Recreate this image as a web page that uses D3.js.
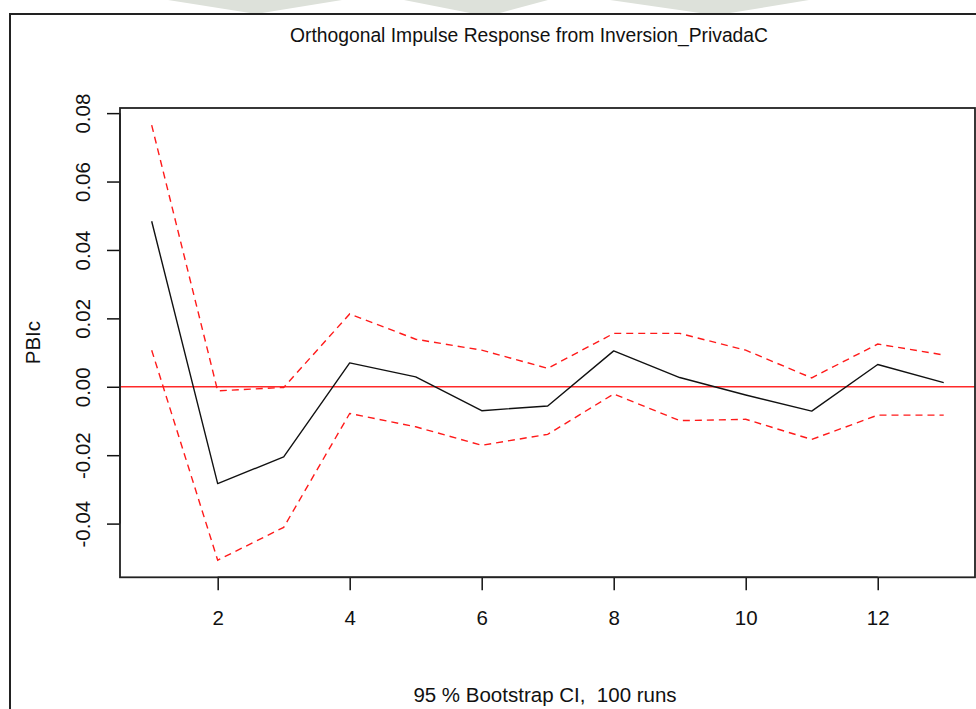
<!DOCTYPE html>
<html>
<head>
<meta charset="utf-8">
<script src="https://cdn.jsdelivr.net/npm/d3@7"></script>
<style>
  html, body { margin: 0; padding: 0; background: #fff; }
  svg { display: block; font-family: "Liberation Sans", Arial, sans-serif; }
</style>
</head>
<body>
<div id="chart"></div>
<script>
// impulse horizon 1..13
const horizon = [1, 2, 3, 4, 5, 6, 7, 8, 9, 10, 11, 12, 13];
// orthogonal impulse response of PBIc to Inversion_PrivadaC
const irf = [0.0484, -0.0283, -0.0205, 0.0070, 0.0029, -0.0070, -0.0056, 0.0105, 0.0027, -0.0024, -0.0071, 0.0065, 0.0012];
// 95 % bootstrap bands
const upper = [0.0765, -0.0012, -0.0002, 0.0213, 0.0139, 0.0107, 0.0054, 0.0156, 0.0156, 0.0107, 0.0026, 0.0125, 0.0093];
const lower = [0.0107, -0.0507, -0.0411, -0.0078, -0.0117, -0.0171, -0.0139, -0.0021, -0.0099, -0.0095, -0.0154, -0.0083, -0.0083];
const xTicks = [2, 4, 6, 8, 10, 12];
const yTicks = [-0.04, -0.02, 0.00, 0.02, 0.04, 0.06, 0.08];

const width = 976, height = 709;
const plot = {left: 120, right: 975, top: 108, bottom: 577.3};

const svg = d3.select('#chart').append('svg')
    .attr('width', width)
    .attr('height', height);

// faint watermark bits peeking above the frame
const wm = svg.append('g').attr('fill', '#dde1da');
[[168, 250, 262, 342], [404, 470, 500, 548], [610, 700, 730, 809]].forEach(function (s) {
    wm.append('path')
        .attr('d', 'M' + s[0] + ',0 L' + s[3] + ',0 L' + s[2] + ',13 L' + s[1] + ',13 Z');
});

// outer frame (runs off the right/bottom of the picture)
svg.append('rect')
    .attr('x', 10).attr('y', 14)
    .attr('width', width + 20).attr('height', height + 20)
    .attr('fill', '#fff')
    .attr('stroke', '#222')
    .attr('stroke-width', 2);

const x = d3.scaleLinear()
    .domain([0.52, 13.48])
    .range([plot.left, 975.4]);

const y = d3.scaleLinear()
    .domain([-0.0557, 0.0815])
    .range([plot.bottom, plot.top]);

const fontSize = 20.5;

// y axis
const yAxis = svg.append('g')
    .attr('transform', 'translate(' + plot.left + ',0)')
    .call(d3.axisLeft(y).tickValues(yTicks).tickSize(13).tickFormat(function (d) { return d.toFixed(2); }));
yAxis.select('.domain').remove();
yAxis.append('line')
    .attr('x1', 0).attr('x2', 0)
    .attr('y1', y(yTicks[0])).attr('y2', y(yTicks[yTicks.length - 1]))
    .attr('stroke', '#111').attr('stroke-width', 1.5);
yAxis.selectAll('.tick line').attr('stroke', '#111').attr('stroke-width', 1.5);
yAxis.selectAll('.tick text')
    .attr('x', null).attr('dy', null)
    .attr('transform', 'translate(-30,0) rotate(-90)')
    .attr('text-anchor', 'middle')
    .attr('fill', '#111')
    .style('font-size', fontSize + 'px')
    .style('font-family', '"Liberation Sans", Arial, sans-serif');

// x axis
const xAxis = svg.append('g')
    .attr('transform', 'translate(0,' + plot.bottom + ')')
    .call(d3.axisBottom(x).tickValues(xTicks).tickSize(13).tickFormat(d3.format('d')));
xAxis.select('.domain').remove();
xAxis.append('line')
    .attr('y1', 0).attr('y2', 0)
    .attr('x1', x(xTicks[0])).attr('x2', x(xTicks[xTicks.length - 1]))
    .attr('stroke', '#111').attr('stroke-width', 1.5);
xAxis.selectAll('.tick line').attr('stroke', '#111').attr('stroke-width', 1.5);
xAxis.selectAll('.tick text')
    .attr('y', 47.7).attr('dy', null)
    .attr('fill', '#111')
    .style('font-size', fontSize + 'px')
    .style('font-family', '"Liberation Sans", Arial, sans-serif');

// zero line
svg.append('line')
    .attr('x1', plot.left).attr('x2', plot.right)
    .attr('y1', y(0)).attr('y2', y(0))
    .attr('stroke', '#ff2a2a')
    .attr('stroke-width', 1.6);

const line = d3.line()
    .x(function (d, i) { return x(horizon[i]); })
    .y(function (d) { return y(d); });

[upper, lower].forEach(function (band) {
    svg.append('path')
        .datum(band)
        .attr('fill', 'none')
        .attr('stroke', '#ff1a1a')
        .attr('stroke-width', 1.4)
        .attr('stroke-dasharray', '7,5')
        .attr('d', line);
});

svg.append('path')
    .datum(irf)
    .attr('fill', 'none')
    .attr('stroke', '#111')
    .attr('stroke-width', 1.4)
    .attr('stroke-linejoin', 'round')
    .attr('d', line);

// plot box
svg.append('rect')
    .attr('x', plot.left).attr('y', plot.top)
    .attr('width', plot.right - plot.left).attr('height', plot.bottom - plot.top)
    .attr('fill', 'none')
    .attr('stroke', '#222')
    .attr('stroke-width', 1.8);

// titles
svg.append('text')
    .attr('x', 529).attr('y', 42)
    .attr('text-anchor', 'middle')
    .attr('fill', '#111')
    .style('font-size', '19.3px')
    .text('Orthogonal Impulse Response from Inversion_PrivadaC');

svg.append('text')
    .attr('x', 545).attr('y', 702)
    .attr('text-anchor', 'middle')
    .attr('fill', '#111')
    .style('font-size', fontSize + 'px')
    .style('white-space', 'pre')
    .text('95 % Bootstrap CI,  100 runs');

svg.append('text')
    .attr('transform', 'translate(40,' + ((plot.top + plot.bottom) / 2) + ') rotate(-90)')
    .attr('text-anchor', 'middle')
    .attr('fill', '#111')
    .style('font-size', fontSize + 'px')
    .text('PBIc');
</script>
</body>
</html>
